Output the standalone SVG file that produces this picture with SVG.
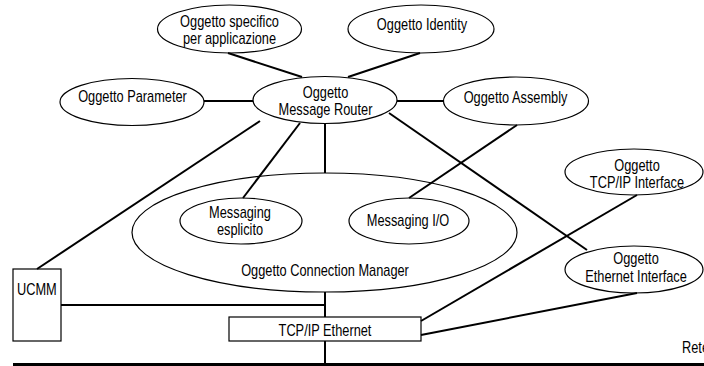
<svg xmlns="http://www.w3.org/2000/svg" width="704" height="366" viewBox="0 0 704 366">
<style>
.n{fill:none;stroke:#000;stroke-width:1.2}
.c line{stroke:#000;stroke-width:2;stroke-linecap:butt}
text{font-family:"Liberation Sans",Arial,sans-serif;font-size:16px;fill:#000}
.m{text-anchor:middle}
</style>
<rect width="704" height="366" fill="#fff"/>
<g id="connectors" class="c">
<line x1="228" y1="53" x2="302" y2="77"/>
<line x1="420" y1="53" x2="348" y2="77"/>
<line x1="204" y1="101" x2="253" y2="101"/>
<line x1="397" y1="101" x2="444" y2="101"/>
<line x1="260" y1="121" x2="37" y2="269"/>
<line x1="300" y1="123" x2="243" y2="198"/>
<line x1="325" y1="123" x2="325" y2="173"/>
<line x1="389" y1="113" x2="587" y2="250"/>
<line x1="517" y1="125" x2="409" y2="198"/>
<line x1="637" y1="195" x2="421" y2="321"/>
<line x1="637" y1="293" x2="421" y2="335"/>
<line x1="325" y1="292" x2="325" y2="317"/>
<line x1="61" y1="305" x2="325" y2="305"/>
<line x1="325" y1="341" x2="325" y2="364"/>
<line x1="13" y1="364.5" x2="704" y2="364.5" style="stroke-width:3"/>
</g>
<g id="specifico">
<ellipse class="n" cx="229.5" cy="29" rx="72" ry="24"/>
<text class="m" transform="translate(229.5,27) scale(0.8,1)">Oggetto specifico</text>
<text class="m" transform="translate(229.5,44) scale(0.8,1)">per applicazione</text>
</g>
<g id="identity">
<ellipse class="n" cx="421" cy="29" rx="73" ry="24"/>
<text class="m" transform="translate(422,30) scale(0.8,1)">Oggetto Identity</text>
</g>
<g id="parameter">
<ellipse class="n" cx="132" cy="102" rx="72" ry="23.5"/>
<text class="m" transform="translate(132.5,102) scale(0.8,1)">Oggetto Parameter</text>
</g>
<g id="router">
<ellipse class="n" cx="325" cy="100" rx="72" ry="23.5"/>
<text class="m" transform="translate(325.5,97.5) scale(0.8,1)">Oggetto</text>
<text class="m" transform="translate(325.5,115) scale(0.8,1)">Message Router</text>
</g>
<g id="assembly">
<ellipse class="n" cx="516" cy="101" rx="72.5" ry="24"/>
<text class="m" transform="translate(515.5,103) scale(0.8,1)">Oggetto Assembly</text>
</g>
<g id="tcpip-interface">
<ellipse class="n" cx="634" cy="172" rx="69" ry="23"/>
<text class="m" transform="translate(637,170.5) scale(0.8,1)">Oggetto</text>
<text class="m" transform="translate(637,188) scale(0.8,1)">TCP/IP Interface</text>
</g>
<g id="connection-manager">
<ellipse class="n" cx="324.5" cy="232.5" rx="192.5" ry="59.5"/>
<text class="m" transform="translate(325,276) scale(0.8,1)">Oggetto Connection Manager</text>
</g>
<g id="messaging-esplicito">
<ellipse class="n" cx="241" cy="221" rx="61" ry="23"/>
<text class="m" transform="translate(240,218) scale(0.8,1)">Messaging</text>
<text class="m" transform="translate(240,235) scale(0.8,1)">esplicito</text>
</g>
<g id="messaging-io">
<ellipse class="n" cx="409" cy="221" rx="60" ry="23"/>
<text class="m" transform="translate(408,226) scale(0.8,1)">Messaging I/O</text>
</g>
<g id="ethernet-interface">
<ellipse class="n" cx="634" cy="269.5" rx="69" ry="23.5"/>
<text class="m" transform="translate(636,263.5) scale(0.8,1)">Oggetto</text>
<text class="m" transform="translate(636,282) scale(0.8,1)">Ethernet Interface</text>
</g>
<g id="ucmm">
<rect class="n" x="13" y="269" width="48" height="72"/>
<text transform="translate(17,295) scale(0.8,1)">UCMM</text>
</g>
<g id="tcpip-ethernet">
<rect class="n" x="229" y="317" width="192" height="24"/>
<text class="m" transform="translate(325,336) scale(0.8,1)">TCP/IP Ethernet</text>
</g>
<g id="rete">
<text transform="translate(682,353) scale(0.8,1)">Rete</text>
</g>
</svg>
